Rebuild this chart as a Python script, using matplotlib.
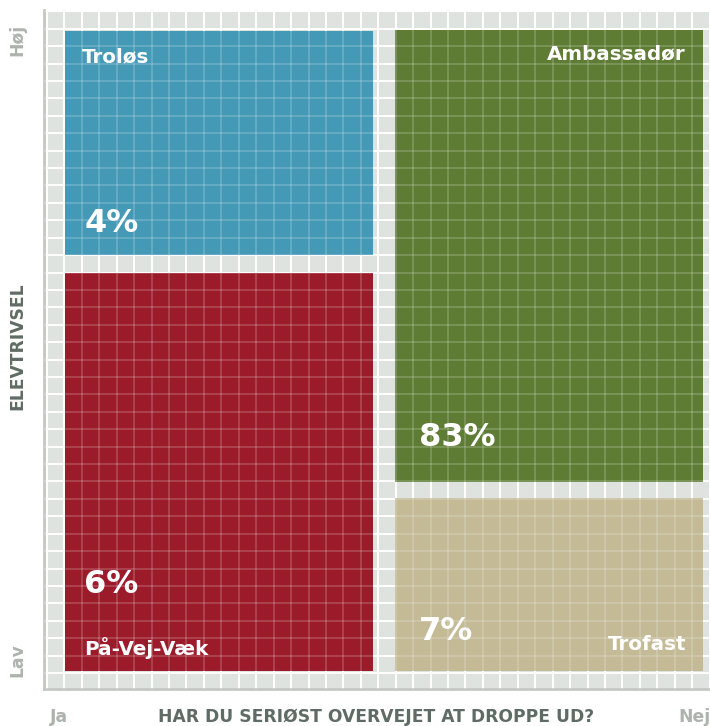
import matplotlib.pyplot as plt
import matplotlib.patches as patches
import numpy as np

# Segmenter (navn, andel i procent)
segments = ['Troløs', 'På-Vej-Væk', 'Ambassadør', 'Trofast']
percents = [4, 6, 83, 7]

# Felternes udstrækning i akse-enheder (0-100)
x_spans = [(3.1, 48.4), (3.1, 48.4), (51.6, 96.9), (51.6, 96.9)]
y_spans = [(63.9, 96.9), (2.6, 61.3), (30.5, 97.0), (2.6, 28.1)]
colors = ['#4499b6', '#9c1b2b', '#5f7c34', '#c4ba96']

# Placering af tekster: (x, y, ha) for navn og for procent
name_pos = [(5.6, 93.1, 'left'), (5.9, 6.0, 'left'), (94.4, 93.5, 'right'), (94.4, 6.6, 'right')]
pct_pos = [(5.9, 68.6), (5.9, 15.4), (55.1, 37.1), (55.1, 8.5)]

x_labels = ['Ja', 'Nej']
y_labels = ['Lav', 'Høj']
x_title = 'HAR DU SERIØST OVERVEJET AT DROPPE UD?'
y_title = 'ELEVTRIVSEL'

BG = '#dfe3e0'
LIGHT = '#adb3ae'
DARK = '#5f6b65'

fig = plt.figure(figsize=(7.10, 7.26), dpi=100)
ax = fig.add_axes([44 / 710, 37 / 726, 680 / 710, 679 / 726])
ax.set_xlim(0, 100)
ax.set_ylim(0, 100)
ax.set_facecolor(BG)

# gitter
step = 100 / 39
xg = np.arange(0.44, 100, step)
yg = np.arange(2.36 - step, 100, step)
for x in xg:
    ax.axvline(x, color='white', lw=1.4, zorder=1)
for y in yg:
    ax.axhline(y, color='white', lw=1.4, zorder=1)

for (x0, x1), (y0, y1), c in zip(x_spans, y_spans, colors):
    ax.add_patch(patches.Rectangle((x0, y0), x1 - x0, y1 - y0,
                                   facecolor=c, edgecolor='none', zorder=2))

# lyse linjer oven på felterne
for x in xg:
    ax.axvline(x, color='white', lw=1.1, alpha=0.22, zorder=3)
for y in yg:
    ax.axhline(y, color='white', lw=1.1, alpha=0.22, zorder=3)

for name, pct, (nx, ny, ha), (px, py) in zip(segments, percents, name_pos, pct_pos):
    ax.text(nx, ny, name, ha=ha, va='center', color='white',
            fontsize=14.3, fontweight='bold', zorder=4)
    ax.text(px, py, f'{pct}%', ha='left', va='center', color='white',
            fontsize=23, fontweight='bold', zorder=4)

for s in ['top', 'right']:
    ax.spines[s].set_visible(False)
for s in ['left', 'bottom']:
    ax.spines[s].set_color('#c3c9c4')
    ax.spines[s].set_linewidth(2)
ax.set_xticks([])
ax.set_yticks([])

# akse-tekster
fig.text(17 / 710, 1 - 346 / 726, y_title, rotation=90, ha='center', va='center',
         color=DARK, fontsize=12.3, fontweight='bold')
fig.text(17 / 710, 1 - 40 / 726, y_labels[1], rotation=90, ha='center', va='center',
         color=LIGHT, fontsize=12.3, fontweight='bold')
fig.text(17 / 710, 1 - 660 / 726, y_labels[0], rotation=90, ha='center', va='center',
         color=LIGHT, fontsize=12.3, fontweight='bold')
fig.text(376 / 710, 1 - 717 / 726, x_title, ha='center', va='center',
         color=DARK, fontsize=12.3, fontweight='bold')
fig.text(50 / 710, 1 - 717 / 726, x_labels[0], ha='left', va='center',
         color=LIGHT, fontsize=12.3, fontweight='bold')
fig.text(678 / 710, 1 - 717 / 726, x_labels[1], ha='left', va='center',
         color=LIGHT, fontsize=12.3, fontweight='bold')

fig.savefig('out.png', dpi=100)
